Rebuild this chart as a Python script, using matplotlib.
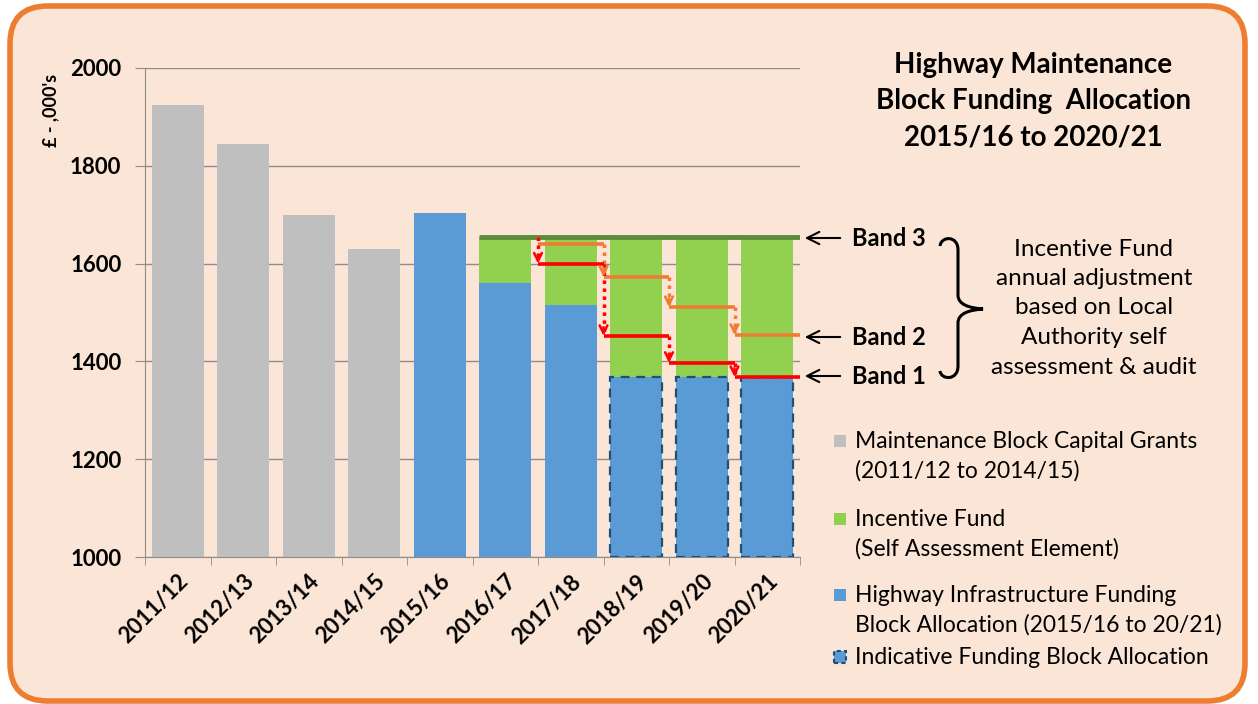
import numpy as np
import matplotlib
matplotlib.use("Agg")
import matplotlib.pyplot as plt
from matplotlib.patches import FancyBboxPatch, Rectangle
from matplotlib.path import Path
from matplotlib.patches import PathPatch

# ---------------- data ----------------
years = ["2011/12", "2012/13", "2013/14", "2014/15", "2015/16",
         "2016/17", "2017/18", "2018/19", "2019/20", "2020/21"]
grants = [1924, 1845, 1699, 1630, None, None, None, None, None, None]
block = [None, None, None, None, 1703, 1560, 1515, 1368, 1368, 1368]
band3 = [None, None, None, None, None, 1655, 1655, 1655, 1655, 1655]
indicative = [False] * 7 + [True] * 3
band2_steps = [1640, 1573, 1511, 1454]   # 2017/18 .. 2020/21
band1_steps = [1600, 1452, 1397, 1368]
step_years = ["2017/18", "2018/19", "2019/20", "2020/21"]
yticks = [1000, 1200, 1400, 1600, 1800, 2000]

# ---------------- colours ----------------
BG = "#FBE5D6"
ORANGE_BORDER = "#ED7D31"
GRAY = "#BFBFBF"
BLUE = "#5B9BD5"
GREEN = "#92D050"
DKGREEN = "#5B8C3A"
ORANGE = "#ED7D31"
RED = "#FF0000"
DASH = "#1F4E79"

W, H = 1258, 704
fig = plt.figure(figsize=(W / 100, H / 100), dpi=100)
fig.patch.set_facecolor("white")
FONT = "Lato"

def fx(x):
    return x / W

def fy(y):
    return 1 - y / H

# rounded orange border
border = FancyBboxPatch((fx(10), fy(701)), fx(1245) - fx(10), fy(6) - fy(701),
                        boxstyle="round,pad=0,rounding_size=0.03",
                        transform=fig.transFigure, facecolor=BG,
                        edgecolor=ORANGE_BORDER, linewidth=4, zorder=-10,
                        mutation_aspect=W / H)
fig.patches.append(border)

ax = fig.add_axes([fx(145), fy(557), fx(800) - fx(145), fy(68) - fy(557)])
ax.set_facecolor("none")
ax.set_zorder(1)
x = np.arange(len(years))
bw = 0.8

for i in range(len(years)):
    if grants[i] is not None:
        ax.bar(x[i], grants[i] - 1000, bottom=1000, width=bw, color=GRAY, zorder=2)
    if block[i] is not None:
        if band3[i] is not None:
            ax.bar(x[i], band3[i] - block[i], bottom=block[i], width=bw,
                   color=GREEN, zorder=2)
        if indicative[i]:
            ax.bar(x[i], block[i] - 1000, bottom=1000, width=bw, color=BLUE,
                   edgecolor=DASH, linewidth=1.6, linestyle=(0, (4, 3)), zorder=3)
        else:
            ax.bar(x[i], block[i] - 1000, bottom=1000, width=bw, color=BLUE, zorder=2)

# band 3 top line
b3 = [v for v in band3 if v is not None][0]
first = band3.index(b3)
ax.plot([x[first] - bw / 2, x[-1] + 0.5], [b3, b3], color=DKGREEN, lw=3.5,
        zorder=5, solid_capstyle="butt")

# step lines
def steps(levels, color, start_level):
    prev = start_level
    for k, yr in enumerate(step_years):
        i = years.index(yr)
        x0, x1 = i - 0.5, i + 0.5
        lvl = levels[k]
        ax.plot([x0, x0], [prev, lvl + 6], color=color, lw=2.5, ls=(0, (1, 1.3)),
                zorder=6)
        if prev - lvl > 20:
            ax.annotate("", xy=(x0, lvl), xytext=(x0, lvl + 18),
                        arrowprops=dict(arrowstyle="->", color=color, lw=1.8,
                                        mutation_scale=14, shrinkA=0, shrinkB=0),
                        zorder=7)
        ax.plot([x0, x1], [lvl, lvl], color=color, lw=2.6, zorder=6,
                solid_capstyle="butt")
        prev = lvl

steps(band2_steps, ORANGE, b3)
steps(band1_steps, RED, b3)

ax.set_xlim(-0.5, len(years) - 0.5)
ax.set_ylim(1000, 2000)
ax.set_yticks(yticks)
ax.set_yticklabels([str(v) for v in yticks], fontsize=16, fontweight="bold",
                   family=FONT)
ax.set_xticks(x)
ax.set_xticklabels(years, rotation=45, ha="right", va="top",
                   rotation_mode="anchor", fontsize=16, fontweight="bold",
                   family=FONT)
ax.set_xticks(np.arange(-0.5, len(years)), minor=True)
ax.tick_params(axis="x", which="major", length=0, pad=10)
ax.tick_params(axis="x", which="minor", length=6, color="#8C8C8C")
ax.tick_params(axis="y", length=7, color="#8C8C8C", pad=10)
for s in ["top", "right"]:
    ax.spines[s].set_visible(False)
for s in ["left", "bottom"]:
    ax.spines[s].set_color("#8C8C8C")
ax.grid(axis="y", color="#8C8C8C", lw=1, zorder=1)
ax.set_axisbelow(True)

fig.text(fx(51), fy(110), "£ - ,000's", rotation=90, ha="center", va="center",
         fontsize=13, fontweight="bold", family=FONT)

# title
fig.text(fx(1033), fy(101), "Highway Maintenance\nBlock Funding  Allocation\n2015/16 to 2020/21",
         ha="center", va="center", fontsize=20, fontweight="bold", family=FONT,
         linespacing=1.5)

# band labels with arrows
for label, ypx in [("Band 3", 238), ("Band 2", 337), ("Band 1", 376)]:
    fig.text(fx(852), fy(ypx), label, ha="left", va="center", fontsize=17,
             fontweight="bold", family=FONT)
    fig.patches.append(matplotlib.patches.FancyArrowPatch(
        (fx(843), fy(ypx)), (fx(802), fy(ypx)), transform=fig.transFigure,
        arrowstyle="->", mutation_scale=22, lw=1.5, color="black", zorder=5))

# brace
verts = [(940, 246), (941, 236), (958, 235), (958, 250),
         (958, 295),
         (958, 305), (970, 308), (983, 309),
         (970, 310), (958, 313), (958, 323),
         (958, 366),
         (958, 381), (941, 380), (940, 371)]
codes = [Path.MOVETO, Path.CURVE4, Path.CURVE4, Path.CURVE4,
         Path.LINETO,
         Path.CURVE4, Path.CURVE4, Path.CURVE4,
         Path.CURVE4, Path.CURVE4, Path.CURVE4,
         Path.LINETO,
         Path.CURVE4, Path.CURVE4, Path.CURVE4]
brace = PathPatch(Path([(fx(a), fy(b)) for a, b in verts], codes),
                  transform=fig.transFigure, facecolor="none", edgecolor="black",
                  lw=2.2, zorder=5)
fig.patches.append(brace)

fig.text(fx(1094), fy(308),
         "Incentive Fund\nannual adjustment\nbased on Local\nAuthority self\nassessment & audit",
         ha="center", va="center", fontsize=17.5, family=FONT, linespacing=1.5)

# legend (manual)
legend_items = [
    (GRAY, None, 441, ["Maintenance Block Capital Grants", "(2011/12 to 2014/15)"]),
    (GREEN, None, 519, ["Incentive Fund", "(Self Assessment Element)"]),
    (BLUE, None, 595, ["Highway Infrastructure Funding", "Block Allocation (2015/16 to 20/21)"]),
    (BLUE, DASH, 657, ["Indicative Funding Block Allocation"]),
]
for col, edge, ypx, lines in legend_items:
    sq = 12
    if edge is None:
        r = Rectangle((fx(834), fy(ypx + sq / 2)), sq / W, sq / H,
                      transform=fig.transFigure, facecolor=col, edgecolor="none",
                      zorder=5)
    else:
        r = Rectangle((fx(834), fy(ypx + sq / 2)), sq / W, sq / H,
                      transform=fig.transFigure, facecolor=col, edgecolor=edge,
                      lw=1.5, ls=(0, (2, 1.5)), zorder=5)
    fig.patches.append(r)
    for j, t in enumerate(lines):
        fig.text(fx(855), fy(ypx + j * 30), t, ha="left", va="center",
                 fontsize=16.5, family=FONT)

fig.savefig("out.png", dpi=100, facecolor=fig.get_facecolor())
